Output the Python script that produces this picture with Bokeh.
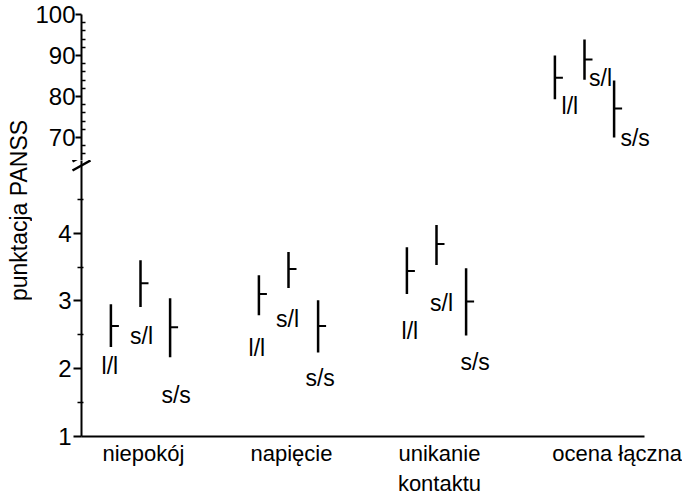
import math
from bokeh.plotting import figure
from bokeh.layouts import column, row
from bokeh.models import Range1d, FixedTicker, ColumnDataSource
from bokeh.embed import file_html
from bokeh.resources import INLINE
from bokeh.core.properties import value

# ---------------- data ----------------
categories = ["niepokój", "napięcie", "unikanie\nkontaktu", "ocena łączna"]
genotypes = ["l/l", "s/l", "s/s"]

niepokoj_low = [2.32, 2.91, 2.17]
niepokoj_mean = [2.63, 3.26, 2.61]
niepokoj_high = [2.95, 3.60, 3.04]

napiecie_low = [2.79, 3.19, 2.24]
napiecie_mean = [3.10, 3.47, 2.63]
napiecie_high = [3.38, 3.72, 3.01]

unikanie_low = [3.10, 3.53, 2.49]
unikanie_mean = [3.44, 3.84, 2.99]
unikanie_high = [3.79, 4.12, 3.48]

ocena_low = [79.3, 84.1, 70.0]
ocena_mean = [84.6, 89.0, 77.1]
ocena_high = [90.0, 93.9, 83.9]

y_ticks_low = [1, 2, 3, 4]
y_minor_low = [1.5, 2.5, 3.5, 4.5]
y_ticks_high = [70, 80, 90, 100]
y_label = "punktacja PANSS"

# ---------------- layout constants ----------------
FONT = "Liberation Sans"
PX_PER_CAT = 148.0
AXIS_PX = 79.0
CAT1_PX = 138.0
TITLE_W = 32
x_start = 1 - (CAT1_PX - AXIS_PX) / PX_PER_CAT
group_off = [-0.2, 0.0, 0.2]
label_shift = [0.02, 0.02, 0.02, 0.22]

# label offsets (px) relative to bottom of each range line
label_dx_low = [[-1, 1, 6], [-2, -1, 2], [3, 5, 9]]
label_dy_low = [[19, 29, 38], [33, 31, 26], [37, 38, 27]]
label_dx_high = [15, 16, 21]
label_dy_high = [7, -2, 0]

TOP_BORDER = 14
TOP_FRAME_W = 596
BOT_FRAME_W = 563
TOP_FRAME_H = 146
BOT_FRAME_H = 276
TOP_PX_PER_UNIT = 4.1
BOT_PX_PER_UNIT = 67.8
LEFT_BORDER = int(AXIS_PX) - TITLE_W
BOT_FRAME_BOTTOM_PX = TOP_BORDER + TOP_FRAME_H + BOT_FRAME_H

top_y = Range1d(100 - TOP_FRAME_H / TOP_PX_PER_UNIT, 100)
bot_y = Range1d(1, 1 + BOT_FRAME_H / BOT_PX_PER_UNIT)


def style_yaxis(p, font_px):
    ax = p.yaxis[0]
    ax.axis_line_width = 2
    ax.axis_line_color = "black"
    ax.major_tick_line_width = 2
    ax.major_tick_line_color = "black"
    ax.minor_tick_line_width = 1.5
    ax.minor_tick_line_color = "black"
    ax.major_label_text_font = FONT
    ax.major_label_text_font_size = font_px
    ax.major_label_text_color = "black"
    ax.major_tick_in = 0


def base_fig(frame_w, frame_h, y_range, x_range, top_border, right_border, x_axis):
    p = figure(frame_width=frame_w, frame_height=frame_h,
               x_range=x_range, y_range=y_range,
               output_backend="svg", toolbar_location=None,
               x_axis_location=x_axis,
               min_border_left=LEFT_BORDER, min_border_right=right_border,
               min_border_top=top_border, min_border_bottom=0)
    p.outline_line_color = None
    p.grid.visible = False
    p.background_fill_color = "white"
    p.border_fill_color = "white"
    return p


# ---------------- top panel (ocena łączna) ----------------
p_top = base_fig(TOP_FRAME_W, TOP_FRAME_H, top_y,
                 Range1d(x_start, x_start + TOP_FRAME_W / PX_PER_CAT),
                 TOP_BORDER, 0, None)
p_top.yaxis.ticker = FixedTicker(
    ticks=y_ticks_high,
    minor_ticks=[v for v in range(66, 100, 2) if v % 10 != 0])
style_yaxis(p_top, "24px")
p_top.yaxis.major_tick_out = 6
p_top.yaxis.minor_tick_in = 4
p_top.yaxis.minor_tick_out = 0
p_top.yaxis.major_label_standoff = 0

src_top = ColumnDataSource(dict(
    x=[4 + o for o in group_off],
    low=ocena_low, mean=ocena_mean, high=ocena_high,
    label=genotypes, dx=label_dx_high, dy=label_dy_high))

# ---------------- bottom panel ----------------
p_bot = base_fig(BOT_FRAME_W, BOT_FRAME_H, bot_y,
                 Range1d(x_start, x_start + BOT_FRAME_W / PX_PER_CAT),
                 0, 40, "below")
p_bot.yaxis.ticker = FixedTicker(ticks=y_ticks_low, minor_ticks=y_minor_low)
style_yaxis(p_bot, "24px")
p_bot.yaxis.major_tick_out = 8
p_bot.yaxis.minor_tick_in = 2
p_bot.yaxis.minor_tick_out = 4
p_bot.yaxis.major_label_standoff = 2

tick_pos = [i + 1 + s for i, s in enumerate(label_shift)]
xa = p_bot.xaxis[0]
xa.ticker = FixedTicker(ticks=tick_pos, minor_ticks=[])
xa.major_label_overrides = {t: c for t, c in zip(tick_pos, categories)}
xa.axis_line_width = 2
xa.axis_line_color = "black"
xa.major_tick_line_color = None
xa.minor_tick_line_color = None
xa.major_tick_out = 0
xa.major_tick_in = 0
xa.major_label_text_font = FONT
xa.major_label_text_font_size = "22px"
xa.major_label_text_color = "black"
xa.major_label_standoff = 4

lows = [niepokoj_low, napiecie_low, unikanie_low]
means = [niepokoj_mean, napiecie_mean, unikanie_mean]
highs = [niepokoj_high, napiecie_high, unikanie_high]
bx, bl, bm, bh, blab, bdx, bdy = [], [], [], [], [], [], []
for ci in range(3):
    for gi in range(3):
        bx.append(ci + 1 + group_off[gi])
        bl.append(lows[ci][gi])
        bm.append(means[ci][gi])
        bh.append(highs[ci][gi])
        blab.append(genotypes[gi])
        bdx.append(label_dx_low[ci][gi])
        bdy.append(label_dy_low[ci][gi])
src_bot = ColumnDataSource(dict(x=bx, low=bl, mean=bm, high=bh,
                                label=blab, dx=bdx, dy=bdy))

for p, src in ((p_top, src_top), (p_bot, src_bot)):
    p.segment(x0="x", y0="low", x1="x", y1="high", source=src,
              line_color="black", line_width=2.5)
    p.ray(x="x", y="mean", length=8, angle=0, length_units="screen",
          source=src, line_color="black", line_width=2)
    p.text(x="x", y="low", text="label", x_offset="dx", y_offset="dy",
           source=src, text_align="center", text_baseline="middle",
           text_font=value(FONT), text_font_size="23px", text_color="black")


def px_to_bot(pxx, pyy):
    return (x_start + (pxx - AXIS_PX) / PX_PER_CAT,
            1 + (BOT_FRAME_BOTTOM_PX - pyy) / BOT_PX_PER_UNIT)


# axis-break marks (two slashes across the axis)
brk_x0, brk_y0, brk_x1, brk_y1 = [], [], [], []
for cy in (156, 165):
    a = px_to_bot(AXIS_PX - 9, cy + 5)
    b = px_to_bot(AXIS_PX + 9, cy - 5)
    brk_x0.append(a[0]); brk_y0.append(a[1])
    brk_x1.append(b[0]); brk_y1.append(b[1])
p_bot.segment(x0=brk_x0, y0=brk_y0, x1=brk_x1, y1=brk_y1,
              line_color="black", line_width=2.5, level="overlay")

# ---------------- y-axis title (own narrow strip, spans both panels) ----------------
p_title = figure(width=TITLE_W, height=BOT_FRAME_BOTTOM_PX,
                 x_range=Range1d(0, TITLE_W),
                 y_range=Range1d(BOT_FRAME_BOTTOM_PX, 0),
                 output_backend="svg", toolbar_location=None,
                 x_axis_location=None, y_axis_location=None,
                 min_border=0)
p_title.outline_line_color = None
p_title.grid.visible = False
p_title.text(x=[18], y=[210], text=[y_label], angle=math.pi / 2,
             text_align="center", text_baseline="middle",
             text_font=value(FONT), text_font_size="23px", text_color="black")

layout = row(p_title, column(p_top, p_bot, spacing=0), spacing=0)
open("out.html", "w").write(file_html(layout, INLINE))
